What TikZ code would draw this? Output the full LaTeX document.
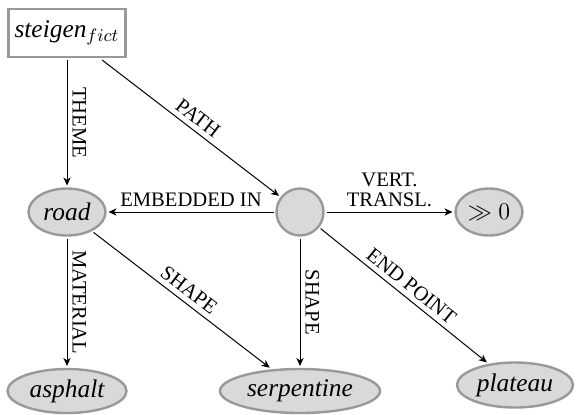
\documentclass[tikz,border=0pt]{standalone}
\usepackage{fontspec}
\setmainfont{Liberation Serif}
\usetikzlibrary{shapes.geometric,arrows.meta}
\definecolor{nodefill}{RGB}{217,217,217}
\definecolor{nodeline}{RGB}{153,153,153}
\begin{document}
\begin{tikzpicture}[x=0.5pt,y=-0.5pt,
  concept/.style={ellipse,draw=nodeline,fill=nodefill,line width=1.2pt,inner sep=0pt,
    minimum height=23.5pt,outer sep=1.5pt,font=\fontsize{12.7}{15}\selectfont\itshape},
  frame/.style={rectangle,draw=nodeline,fill=white,line width=1.2pt,inner sep=0pt,
    outer sep=1.5pt,font=\fontsize{12.7}{15}\selectfont\itshape},
  event/.style={circle,draw=nodeline,fill=nodefill,line width=1.2pt,inner sep=0pt,
    minimum size=23.5pt,outer sep=1.5pt},
  rel/.style={-{Stealth[length=4pt,width=3.6pt,inset=1.2pt]},line width=0.5pt},
  lbl/.style={font=\fontsize{10.3}{10}\selectfont,inner sep=2.5pt}
]
\useasboundingbox (0,0) rectangle (577,414);

% nodes
\node[frame,minimum width=58.5pt,minimum height=24pt] (steigen) at (67,33) {steigen$_{fict}$};
\node[concept,minimum width=38.5pt] (road) at (67,212) {road};
\node[event] (ev) at (300,212) {};
\node[concept,minimum width=33.5pt] (pos) at (489,212) {$\gg 0$};
\node[concept,minimum width=59.5pt,minimum height=22pt] (asphalt) at (67,391) {asphalt};
\node[concept,minimum width=80pt,minimum height=22pt] (serp) at (300,391) {serpentine};
\node[concept,minimum width=58pt,minimum height=22.5pt] (plateau) at (515,385) {plateau};

% relations
\draw[rel] (steigen) -- node[lbl,sloped,above] {THEME} (road);
\draw[rel] (steigen) -- node[lbl,sloped,above] {PATH} (ev);
\draw[rel] (ev) -- node[lbl,above] {EMBEDDED IN} (road);
\draw[rel] (ev) -- node[lbl,above,align=center] {VERT.\\TRANSL.} (pos);
\draw[rel] (ev) -- node[lbl,sloped,above] {SHAPE} (serp);
\draw[rel] (ev) -- node[lbl,sloped,above] {END POINT} (plateau);
\draw[rel] (road) -- node[lbl,sloped,above] {MATERIAL} (asphalt);
\draw[rel] (road) -- node[lbl,sloped,above] {SHAPE} (serp);
\end{tikzpicture}
\end{document}
